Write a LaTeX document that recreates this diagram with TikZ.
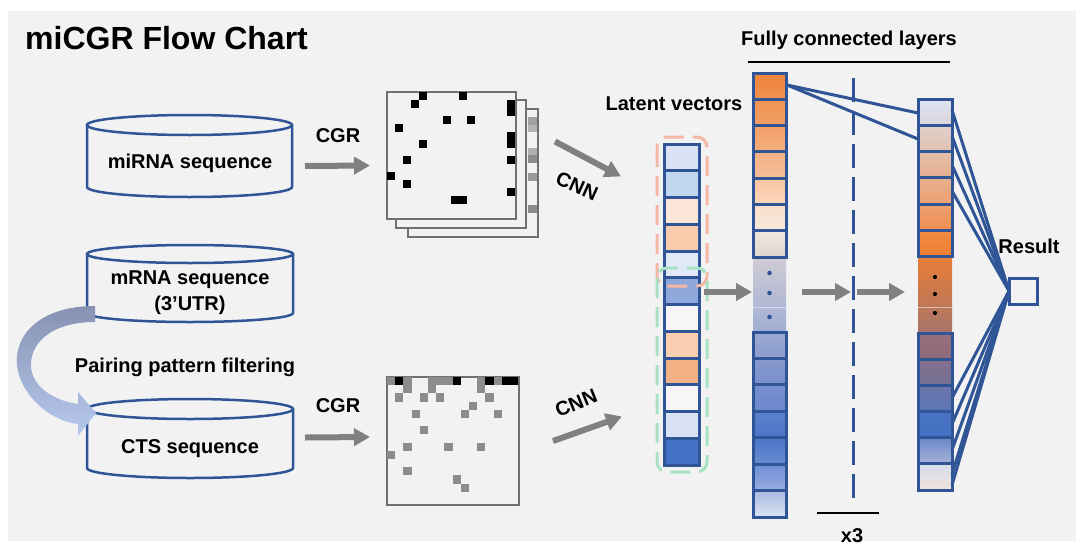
\documentclass[tikz,border=0pt]{standalone}
\usepackage{fontspec}
\setmainfont{Liberation Sans}
\usetikzlibrary{arrows.meta,calc}
\definecolor{bg}{HTML}{F2F2F2}
\definecolor{navy}{HTML}{2F5597}
\definecolor{garrow}{HTML}{808080}
\definecolor{pinkd}{HTML}{F6B8A6}
\definecolor{greend}{HTML}{A8E2C2}
\definecolor{pixg}{HTML}{8C8C8C}
\definecolor{frameg}{HTML}{707070}
\newcommand\mkcell[6]{\definecolor{ctop}{HTML}{#5}\definecolor{cbot}{HTML}{#6}%
  \shade[top color=ctop,bottom color=cbot] (#1,#3) rectangle (#2,#4);%
  \draw[cellb] (#1,#3) rectangle (#2,#4);}
\begin{document}
\begin{tikzpicture}[x=1pt,y=-1pt,
  lbl/.style={font=\fontsize{20}{22}\selectfont\bfseries, inner sep=0pt},
  cyl/.style={draw=navy, line width=2.5pt},
  garr/.style={draw=garrow, line width=6pt, -{Triangle[length=16pt,width=17pt]}},
  cellb/.style={draw=navy, line width=3pt},
  conn/.style={draw=navy, line width=3pt},
  box/.style={inner sep=0pt, outer sep=0pt}]
\useasboundingbox (0,0) rectangle (1083,549);
\fill[white] (0,0) rectangle (1083,549);
\fill[bg] (8,11) rectangle (1076,541);

% title
\node[anchor=base west, font=\fontsize{32}{34}\selectfont\bfseries, inner sep=0pt] (title) at (25,49) {miCGR Flow Chart};

% ---------- cylinders ----------
% miRNA
\draw[cyl] (87,125) -- (87,187) arc[start angle=180, end angle=0, x radius=102.5, y radius=10] -- (292,125);
\draw[cyl] (189.5,125) ellipse[x radius=102.5, y radius=10];
\node[box, minimum width=205, minimum height=62] (mirna) at (189.5,156) {};
\node[lbl, anchor=base] (mirnat) at (190,168) {miRNA sequence};
% mRNA
\draw[cyl] (87,254) -- (87,313) arc[start angle=180, end angle=0, x radius=103, y radius=9] -- (293,254);
\draw[cyl] (190,254) ellipse[x radius=103, y radius=9];
\node[box, minimum width=206, minimum height=59] (mrna) at (190,283.5) {};
\node[lbl, anchor=base] (mrnat) at (190,284) {mRNA sequence};
\node[lbl, anchor=base] (utr) at (190,310) {(3’UTR)};
% CTS
\draw[cyl] (87,409) -- (87,468) arc[start angle=180, end angle=0, x radius=103, y radius=10] -- (293,409);
\draw[cyl] (190,409) ellipse[x radius=103, y radius=10];
\node[box, minimum width=206, minimum height=59] (cts) at (190,438.5) {};
\node[lbl, anchor=base] (ctst) at (190,453) {CTS sequence};

% curved arrow
\shade[top color={rgb,255:red,134;green,146;blue,178}, bottom color={rgb,255:red,182;green,201;blue,238}]
  (95,306) .. controls (40,306) and (14,335) .. (17,365)
  .. controls (20,395) and (50,421) .. (78,424)
  -- (78,436) -- (96,413) -- (78,392) -- (78,404)
  .. controls (55,401) and (31,387) .. (31,365)
  .. controls (31,340) and (55,322) .. (95,322) -- cycle;
\node[lbl, anchor=base] (ppf) at (185,372) {Pairing pattern filtering};

% ---------- CGR images ----------
\draw[frameg, line width=1.3pt, fill=bg] (408,109) rectangle (538,237);
\foreach \ya/\yb/\cc in {117/125/A0A0A0, 125/132/B4B4B4, 148/155/B0B0B0, 155/163/8C8C8C, 173/181/999999, 205/213/8C8C8C}{
  \definecolor{cc}{HTML}{\cc}\fill[cc] (528,\ya) rectangle (537,\yb);}
\draw[frameg, line width=1.3pt, fill=bg] (396,100) rectangle (526,228);
\node[box, draw=frameg, line width=1.3pt, fill=bg, minimum width=129, minimum height=127] (cgrA) at (451.5,155.5) {};
\foreach \c/\r/\w/\h in {4/0/1/1, 3/1/1/1, 9/0/1/1, 7/3/1/1, 10/3/1/1, 1/4/1/1, 4/6/1/1, 2/8/1/1, 0/10/1/1, 2/11/1/1, 8/13/2/1, 15/1/1/2, 15/5/1/2, 15/8/1/1, 15/12/1/1}
  \fill[black] ({387+\c*8},{92+\r*8}) rectangle ++({\w*8},{\h*8});

\node[box, draw=frameg, line width=1.3pt, fill=bg, minimum width=132, minimum height=128] (cgrB) at (453,441) {};
\foreach \c/\r in {0/0, 2/0, 5/0, 6/0, 7/0, 11/0, 13/0, 2/1, 5/1, 11/1, 1/2, 4/2, 6/2, 12/2, 10/3, 3/4, 9/4, 13/4, 4/6, 2/8, 7/8, 11/8, 0/9, 2/11, 8/12, 9/13}
  \fill[pixg] ({387+\c*8.2},{377+\r*8.2}) rectangle ++(8.2,8.2);
\foreach \c in {1,8,12,14,15}
  \fill[black] ({387+\c*8.2},377) rectangle ++(8.2,8.2);

% CGR labels and arrows
\node[lbl, anchor=base] (cgr1) at (338,142) {CGR};
\node[lbl, anchor=base] (cgr2) at (338,412) {CGR};
\draw[garr] ($(mirna.east)+(13,10)$) -- ($(cgrA.west)+(-17,10)$);
\draw[garr] ($(cts.east)+(12,-1)$) -- ($(cgrB.west)+(-17,-4)$);

% ---------- latent vector ----------
\node[box, minimum width=35, minimum height=321] (lv) at (681.5,304.5) {};
\foreach \cc [count=\i from 0] in {DAE3F3, C0D8EF, FDE6D8, F8CBAD, DFE9F7, 8FA8DC, F6F6F6, F9CDB0, F4B183, F6F6F6, D9E2F3, 4472C4}{
  \definecolor{cc}{HTML}{\cc}
  \filldraw[cellb, fill=cc] (664,{144+\i*26.75}) rectangle (699,{144+(\i+1)*26.75});}
\draw[pinkd, line width=3pt, rounded corners=10pt, dash pattern=on 20pt off 9pt] (657,137) rectangle (707,286);
\draw[greend, line width=3pt, rounded corners=10pt, dash pattern=on 20pt off 9pt] (657,268) rectangle (707,472);
\node[lbl, anchor=base] (lvt) at (674,110) {Latent vectors};

\draw[garr] ($(cgrA.east)+(39,-14)$) -- ($(lv.west)+(-43,-128)$);
\draw[garr] ($(cgrB.east)+(34,0)$) -- ($(lv.west)+(-42,112)$);
\node[lbl, rotate=-24] (cnn1) at (577,186) {CNN};
\node[lbl, rotate=22] (cnn2) at (576,403) {CNN};

% ---------- FC layer 1 ----------
\node[box, minimum width=33, minimum height=444] (fc1) at (769.5,295) {};
\shade[top color={rgb,255:red,208;green,204;blue,212}, bottom color={rgb,255:red,160;green,174;blue,212}] (753,257) rectangle (786,332);
\draw[white, opacity=0.5, line width=0.6pt] (753,307) -- (786,307);
\foreach \y in {273,293,317} \fill[navy] (769.5,\y) circle (2.3);
\foreach \ct/\cb [count=\i from 0] in {EE8438/F09050, F09252/F29E66, F2A068/F4AE80, F4B084/F6BE98, F8C6A2/FAD6BC, FBDEC8/F9EADE, EFE6E0/E0D6D0}{
  \pgfmathsetmacro\ya{73+\i*26.29}\pgfmathsetmacro\yb{\ya+26.29}
  \mkcell{753}{786}{\ya}{\yb}{\ct}{\cb}}
\foreach \ct/\cb [count=\i from 0] in {9AAAD2/8C9CCC, 8898CC/7890CC, 7890D0/6A88CC, 5C80CC/4A76C8, 4A76C8/6A8AD0, 6E8ED4/98ACE0, A8B8E0/DCE4F4}{
  \pgfmathsetmacro\ya{332+\i*26.43}\pgfmathsetmacro\yb{\ya+26.43}
  \mkcell{753}{786}{\ya}{\yb}{\ct}{\cb}}

% ---------- FC layer 2 ----------
\node[box, minimum width=34, minimum height=391] (fc2) at (935,294.5) {};
\shade[top color={rgb,255:red,234;green,126;blue,54}, bottom color={rgb,255:red,166;green,116;blue,106}] (918,257) rectangle (952,333);
\draw[white, opacity=0.5, line width=0.6pt] (918,307) -- (952,307);
\foreach \y in {277,294,313} \fill[black] (935,\y) circle (2.1);
\foreach \ct/\cb [count=\i from 0] in {DEE3F3/DCD4DC, E2D0CC/E0C0B0, E4C0A8/E4AC90, E8B090/ECA070, EEA070/EE8E50, F08C44/EE7E30}{
  \pgfmathsetmacro\ya{99+\i*26.33}\pgfmathsetmacro\yb{\ya+26.33}
  \mkcell{918}{952}{\ya}{\yb}{\ct}{\cb}}
\foreach \ct/\cb [count=\i from 0] in {9A707A/8C6A7C, 86708C/727096, 6A76A8/5C74B8, 4A72C4/4472C4, 6A86C8/A8B4D8, D6DCEC/F2E4DC}{
  \pgfmathsetmacro\ya{333+\i*26.17}\pgfmathsetmacro\yb{\ya+26.17}
  \mkcell{918}{952}{\ya}{\yb}{\ct}{\cb}}

% FC1 -> FC2 lines
\draw[conn] ($(fc1.north east)+(1,12)$) -- ($(fc2.north west)+(0,14)$);
\draw[conn] ($(fc1.north east)+(1,12)$) -- ($(fc2.north west)+(0,40)$);

% dashed separator
\coordinate (dtop) at (853,78);
\coordinate (dbot) at (853,505);
\draw[navy, line width=3pt, dash pattern=on 24pt off 9pt] (dtop) -- (dbot);
\coordinate (dmid) at (853,292);

% horizontal arrows
\draw[garr] ($(lv.east)+(5,-12.5)$) -- ($(fc1.west)+(-1,-3)$);
\draw[garr] ($(fc1.east)+(16,-3)$) -- ($(dmid)+(-2,0)$);
\draw[garr] ($(dmid)+(4,0)$) -- ($(fc2.west)+(-13,-2.5)$);

% result
\node[box, draw=navy, line width=3pt, minimum width=28, minimum height=26] (res) at (1023,291) {};
\node[lbl, anchor=base] (rest) at (1029,253) {Result};
\foreach \k in {11,37,66,92}
  \draw[conn] (res.west) -- ($(fc2.north east)+(0,\k)$);
\foreach \k in {299,325,351,375,386}
  \draw[conn] (res.west) -- ($(fc2.north east)+(0,\k)$);

% labels and rules
\node[lbl, anchor=base] (fcl) at (849,45) {Fully connected layers};
\draw[black, line width=1.5pt] (748,62) -- (950,62);
\draw[black, line width=2pt] (817,513) -- (879,513);
\node[lbl, anchor=base] (x3) at (852,542) {x3};
\end{tikzpicture}
\end{document}
